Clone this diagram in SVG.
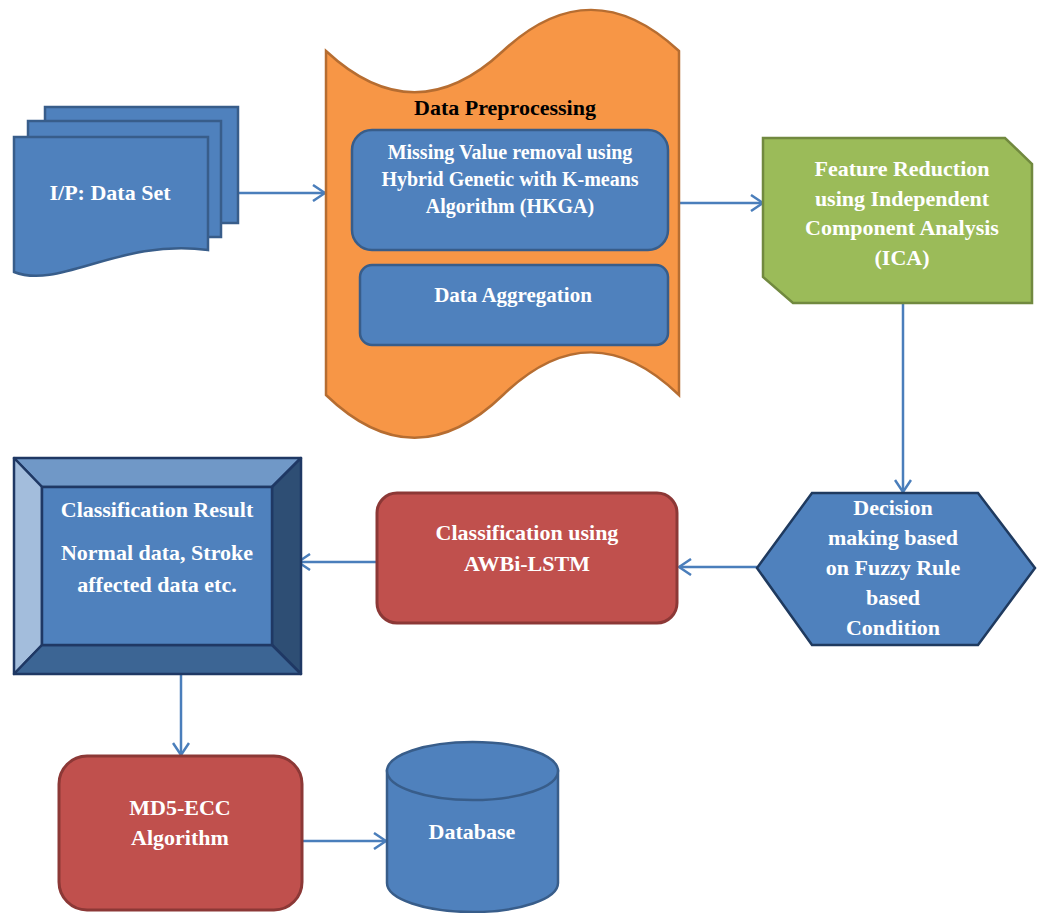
<svg xmlns="http://www.w3.org/2000/svg" width="1044" height="913" viewBox="0 0 1044 913">
<defs>
<style>
text{font-family:"Liberation Serif","Times New Roman",serif;font-weight:bold;text-anchor:middle;fill:#ffffff;font-size:22px}
.blue{fill:#4f81bd;stroke:#385d8a;stroke-width:2.5}
.red{fill:#c0504d;stroke:#8c3836;stroke-width:3}
.conn{fill:none;stroke:#4a7ebb;stroke-width:2.5}
</style>
<marker id="arr" viewBox="0 0 14 18" refX="13" refY="9" markerWidth="14" markerHeight="18" markerUnits="userSpaceOnUse" orient="auto">
<path d="M1,1 L13,9 L1,17" fill="none" stroke="#4a7ebb" stroke-width="2.5"/>
</marker>
</defs>
<rect width="1044" height="913" fill="#ffffff"/>

<g id="connectors">
<line class="conn" x1="238" y1="193" x2="325" y2="193" marker-end="url(#arr)"/>
<line class="conn" x1="679" y1="203" x2="763" y2="203" marker-end="url(#arr)"/>
<line class="conn" x1="903" y1="303" x2="903" y2="492" marker-end="url(#arr)"/>
<line class="conn" x1="757" y1="567" x2="679" y2="567" marker-end="url(#arr)"/>
<line class="conn" x1="377" y1="562" x2="298" y2="562" marker-end="url(#arr)"/>
<line class="conn" x1="181" y1="674" x2="181" y2="755" marker-end="url(#arr)"/>
<line class="conn" x1="302" y1="841" x2="386" y2="841" marker-end="url(#arr)"/>
</g>

<g id="dataset">
<rect class="blue" x="45" y="107" width="193" height="116"/>
<rect class="blue" x="28" y="121" width="193" height="116"/>
<path class="blue" d="M14,137 L208,137 L208,250 C120,238 60,290 14,272 Z"/>
<text x="110" y="200">I/P: Data Set</text>
</g>

<g id="preprocessing">
<path d="M326,51 C385,106 444,106 503,51 C562,-4 620,-4 679,51 L679,395 C620,338 562,338 503,395 C444,452 385,452 326,395 Z" fill="#f79646" stroke="#b66d31" stroke-width="2.5"/>
<text x="505" y="115" style="fill:#000000">Data Preprocessing</text>
<g id="hkga">
<rect class="blue" x="352" y="130" width="316" height="120" rx="20"/>
<text x="510" y="159" style="font-size:20px">Missing Value removal using</text>
<text x="510" y="186" style="font-size:20px">Hybrid Genetic with K-means</text>
<text x="510" y="213" style="font-size:20px">Algorithm (HKGA)</text>
</g>
<g id="aggregation">
<rect class="blue" x="360" y="265" width="308" height="80" rx="12"/>
<text x="513" y="302" style="font-size:21px">Data Aggregation</text>
</g>
</g>

<g id="ica">
<path d="M763,138 L1005,138 L1032,164 L1032,303 L793,303 L763,277 Z" fill="#9bbb59" stroke="#71893f" stroke-width="2.5"/>
<text x="902" y="176">Feature Reduction</text>
<text x="902" y="206">using Independent</text>
<text x="902" y="235">Component Analysis</text>
<text x="902" y="265">(ICA)</text>
</g>

<g id="decision">
<path d="M812,493 L978,493 L1035,568 L978,645 L812,645 L757,568 Z" fill="#4f81bd" stroke="#1f3a5f" stroke-width="2.5"/>
<text x="893" y="515">Decision</text>
<text x="893" y="545">making based</text>
<text x="893" y="575">on Fuzzy Rule</text>
<text x="893" y="605">based</text>
<text x="893" y="635">Condition</text>
</g>

<g id="classification">
<rect class="red" x="377" y="493" width="300" height="130" rx="20"/>
<text x="527" y="540">Classification using</text>
<text x="527" y="571">AWBi-LSTM</text>
</g>

<g id="result">
<polygon points="14,458 301,458 272,487 42,487" fill="#7098c7" stroke="#1f3864" stroke-width="2.5" stroke-linejoin="round"/>
<polygon points="14,458 42,487 42,645 14,674" fill="#a3bddc" stroke="#1f3864" stroke-width="2.5" stroke-linejoin="round"/>
<polygon points="301,458 301,674 272,645 272,487" fill="#2e4e74" stroke="#1f3864" stroke-width="2.5" stroke-linejoin="round"/>
<polygon points="14,674 301,674 272,645 42,645" fill="#3c6594" stroke="#1f3864" stroke-width="2.5" stroke-linejoin="round"/>
<rect x="42" y="487" width="230" height="158" fill="#4f81bd" stroke="#1f3864" stroke-width="2.5"/>
<text x="157" y="517">Classification Result</text>
<text x="157" y="560">Normal data, Stroke</text>
<text x="157" y="592">affected data etc.</text>
</g>

<g id="md5">
<rect class="red" x="59" y="756" width="243" height="154" rx="28"/>
<text x="180" y="815">MD5-ECC</text>
<text x="180" y="845">Algorithm</text>
</g>

<g id="database">
<path class="blue" d="M387,771 L387,883 A85.5,29 0 0 0 558,883 L558,771 Z"/>
<ellipse class="blue" cx="472.5" cy="771" rx="85.5" ry="29"/>
<text x="472" y="839">Database</text>
</g>
</svg>
